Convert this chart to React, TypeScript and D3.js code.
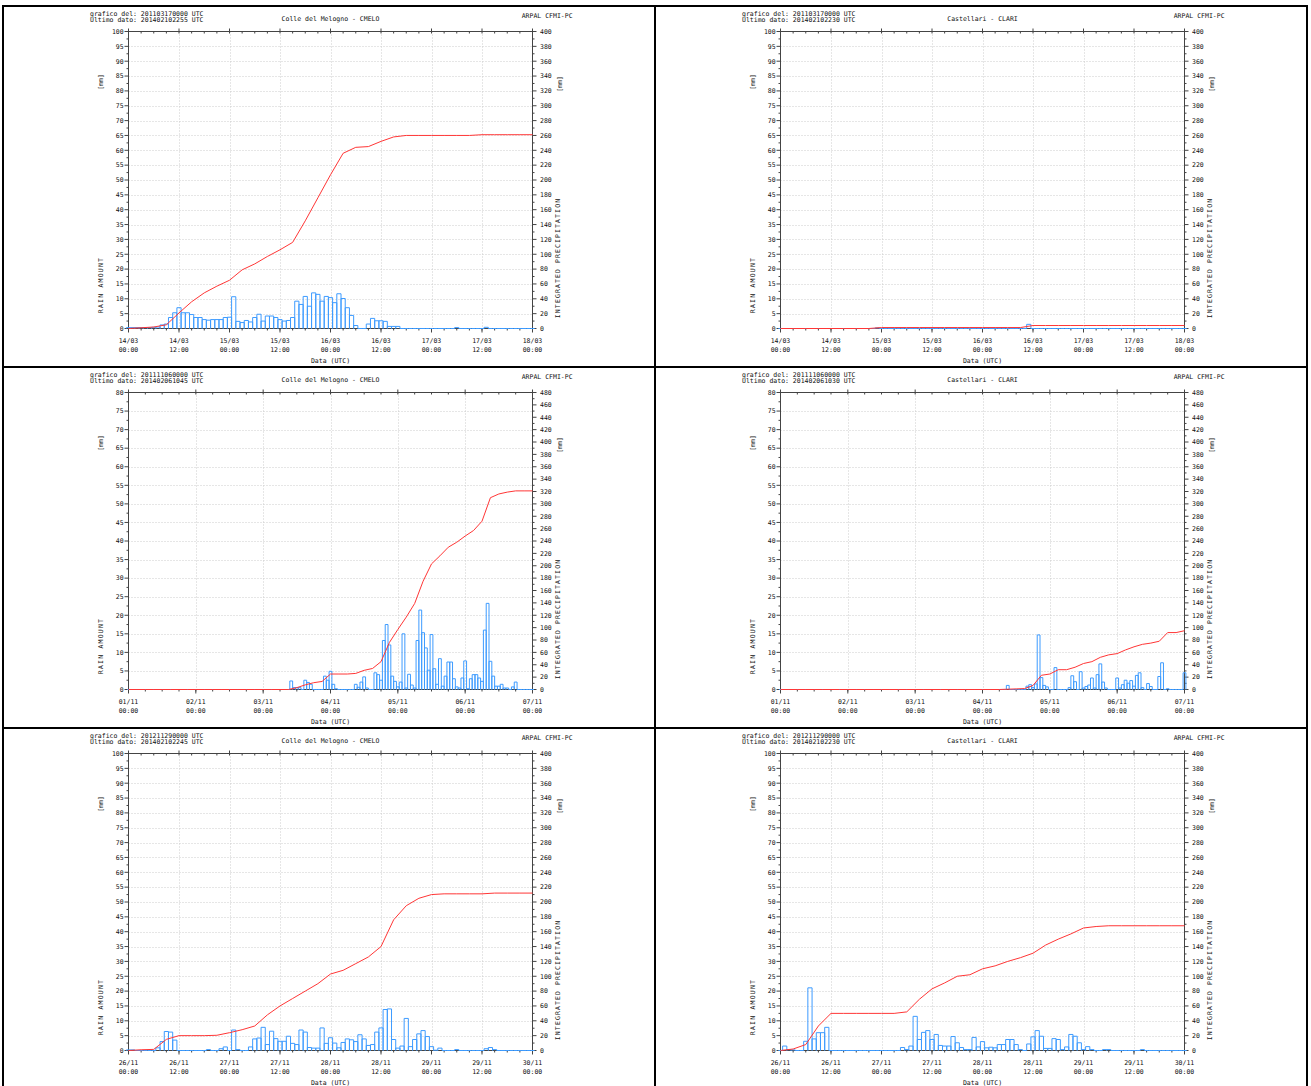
import React from 'react'
import * as d3 from 'd3'

const HOUR = 3600 * 1000

// hourly rain [mm], one value per hour from the first tick
const cmeloMarRain = [
  0.3, 0.3, 0.3, 0.3, 0.3, 0.3,
  0.4, 0.5, 1.2, 1.5, 3.7, 5.3, 7.0, 5.3, 5.3, 4.7, 3.7, 3.7, 3.0, 2.8, 3.0, 3.0, 3.0, 3.7, 3.8,
  10.7, 2.4, 2.0, 2.7, 2.2, 3.7, 4.8, 2.5, 4.2, 4.2, 3.7, 3.0, 2.5, 2.7, 3.7,
  9.2, 8.1, 10.8, 7.5, 12.0, 11.5, 9.2, 10.8, 10.4, 8.7, 11.7, 10.1, 7.0, 4.4, 1.0,
  0, 0, 1.5, 3.4, 2.6, 2.6, 2.4, 0.7, 0.7, 0.7,
  0, 0, 0, 0, 0, 0, 0, 0, 0, 0, 0, 0, 0,
  0.3, 0, 0, 0, 0, 0, 0, 0.4, 0, 0, 0, 0, 0, 0, 0, 0, 0, 0, 0
]
// integrated precipitation [mm], read every 3 hours
const cmeloMarTotal = [0, 1, 2, 5, 21, 36, 48, 57, 65, 79, 87, 97, 106, 116, 145, 176, 207, 236, 244, 245, 252, 258, 260, 260, 260, 260, 260, 260, 261, 261, 261, 261, 261]

const clariMarRain = [
  0, 0, 0, 0, 0, 0, 0, 0, 0, 0, 0, 0, 0, 0, 0, 0, 0, 0, 0, 0, 0, 0, 0, 0.2, 0,
  0, 0, 0, 0, 0, 0, 0, 0, 0, 0, 0, 0, 0, 0, 0, 0, 0, 0, 0, 0, 0, 0, 0, 0, 0,
  0, 0, 0, 0, 0, 0, 0, 0, 0, 1.4, 0, 0, 0, 0, 0, 0, 0, 0, 0, 0, 0, 0, 0, 0, 0,
  0, 0, 0, 0, 0, 0, 0, 0, 0, 0, 0, 0, 0, 0, 0, 0, 0, 0, 0, 0, 0, 0
]
const clariMarTotal = [0, 0, 0, 0, 0, 0, 0, 0, 1.3, 1.3, 1.3, 1.3, 1.3, 1.3, 1.3, 1.3, 1.3, 1.3, 1.3, 1.3, 4, 4, 4, 4, 4, 4, 4, 4, 4, 4, 4, 4, 4]

const cmeloNovRain = [
  0, 0, 0, 0, 0, 0, 0, 0, 0, 0, 0, 0, 0, 0, 0, 0, 0, 0, 0, 0, 0, 0, 0, 0, 0, 0, 0, 0, 0, 0,
  0, 0, 0, 0, 0, 0, 0, 0, 0, 0, 0, 0, 0, 0, 0, 0, 0, 0, 0, 0, 0, 0, 0, 0, 0, 0, 0, 0,
  2.3, 0.5, 0.5, 0.5, 0, 2.5, 1.9, 1.4, 0, 0, 0, 0, 3.6, 2.5, 4.9, 1.4, 0.2,
  0, 0, 0, 0, 0, 0,
  1.4, 0.6, 2.0, 3.4, 0.4, 0, 0, 4.5, 4.0, 2.5, 13.2, 17.5, 12.0, 3.6, 2.2, 0.7, 2.0, 15.0,
  0.4, 4.1, 1.2, 0.4, 13.2, 21.4, 15.3, 11.2, 5.2, 14.8, 5.6, 1.4, 8.3, 0.9, 3.6, 7.4, 7.4, 2.9, 0.7, 0.4,
  3.1, 7.7, 0.2, 2.9, 4.0, 4.0, 3.1, 2.2, 16.0, 23.2, 7.6, 3.6, 0.9, 0.9, 1.4, 0.4, 0.4, 0, 0.7, 2.0,
  0, 0, 0, 0, 0, 0
]
const cmeloNovTotal = [
  0, 0, 0, 0, 0, 0, 0, 0, 0, 0, 0, 0, 0, 0, 0, 0, 0, 0, 0,
  0, 3, 7.5, 11, 13, 25, 25, 25, 26, 31, 34, 45, 76, 97, 117, 139, 175, 203, 216, 230,
  238, 248, 257, 272, 310, 316, 319, 321, 321, 321
]

const clariNovRain = [
  0, 0, 0, 0, 0, 0, 0, 0, 0, 0, 0, 0, 0, 0, 0, 0, 0, 0, 0, 0, 0, 0, 0, 0, 0, 0, 0, 0, 0, 0,
  0, 0, 0, 0, 0, 0, 0, 0, 0, 0, 0, 0, 0, 0, 0, 0, 0, 0, 0, 0, 0, 0, 0, 0, 0, 0, 0, 0, 0, 0,
  0, 0, 0, 0, 0, 0, 0, 0, 0, 0, 0, 0, 0, 0, 0, 0, 0, 0, 0, 0, 0,
  1.1, 0, 0, 0, 0, 0, 0,
  0.9, 1.3, 0.5, 1.5, 14.7, 3.2, 1.1, 0.7, 0, 0, 5.9, 0, 0, 0, 0,
  0.5, 3.7, 2.1, 0, 4.8, 0.4, 0.8, 1.2, 3.1, 0.4, 4.0, 6.9, 2.0, 0.4, 0, 0, 0,
  3.1, 0.4, 1.3, 2.5, 1.7, 2.4, 0.9, 3.8, 4.5, 0.5, 0, 1.6, 0.8, 0, 0,
  3.5, 7.2, 0, 0.2, 0, 0, 0, 0, 0, 4.5
]
const clariNovTotal = [
  0, 0, 0, 0, 0, 0, 0, 0, 0, 0, 0, 0, 0, 0, 0, 0, 0, 0, 0, 0, 0, 0, 0, 0, 0, 0, 0,
  0.5, 1, 1.5, 6.5, 23, 25, 32, 32, 36, 42, 45, 52, 56, 58, 64, 69, 73, 75, 78, 92, 92, 95
]

const cmeloNov12Rain = [
  0.2, 0.2, 0, 0, 0, 0, 0, 0.9, 3.0, 6.4, 6.2, 3.5, 0, 0, 0, 0, 0, 0, 0, 0.3, 0, 0, 0.6, 1.2, 0,
  6.9, 0.3, 0, 0, 1.2, 3.9, 4.2, 7.8, 2.0, 6.5, 4.0, 3.1, 3.1, 4.8, 2.4, 2.0, 6.9, 6.2, 1.0, 0.8, 0.8, 7.6, 2.4,
  4.3, 2.5, 0.9, 2.7, 3.9, 3.6, 3.0, 5.3, 3.9, 1.7, 2.0, 6.2, 7.6, 13.8, 14.0, 3.7, 0.8, 1.5, 10.8, 1.3,
  3.7, 5.6, 6.7, 4.7, 1.3, 0.1, 0.8, 0, 0, 0, 0.3, 0, 0, 0, 0, 0, 0, 0.6, 1.0, 0.3,
  0, 0, 0, 0, 0, 0, 0, 0, 0
]
const cmeloNov12Total = [0, 1, 1.5, 15, 20, 20, 20, 20.5, 24, 28, 33, 48, 60, 70, 80, 90, 103, 108, 117, 126, 140, 176, 195, 205, 210, 211, 211, 211, 211, 212, 212, 212, 212]

const clariNov12Rain = [
  0, 1.5, 0.3, 0.2, 0, 0, 3.1, 21.1, 3.9, 6.0, 6.0, 7.8,
  0, 0, 0, 0, 0, 0, 0, 0, 0, 0, 0, 0, 0, 0, 0, 0, 0,
  1.0, 0.3, 1.5, 11.5, 3.7, 6.1, 6.7, 3.7, 5.4, 1.7, 1.5, 1.5, 4.7, 2.6, 1.0, 0.3, 0.3, 4.4, 1.2,
  3.0, 0.9, 1.1, 0.9, 2.0, 2.0, 3.7, 3.7, 2.0, 0.3, 0, 2.2, 4.6, 6.7, 4.8, 0.7, 0.7, 4.0, 3.7, 0.3,
  1.2, 5.4, 4.8, 2.6, 0.3, 1.3, 0.3,
  0, 0, 0.3, 0.3, 0, 0, 0, 0, 0, 0, 0, 0.3, 0, 0, 0, 0, 0, 0, 0, 0, 0, 0
]
const clariNov12Total = [0, 2, 8, 33, 50, 50, 50, 50, 50, 50, 52, 69, 83, 91, 100, 102, 110, 114, 120, 125, 131, 142, 150, 157, 165, 167, 168, 168, 168, 168, 168, 168, 168]

const stationNames = ['Colle del Melogno - CMELO', 'Castellari - CLARI']
const graficoDel = ['201103170000', '201103170000', '201111060000', '201111060000', '201211290000', '201211290000']
const ultimoDato = ['201402102255', '201402102230', '201402061045', '201402061030', '201402102245', '201402102230']
const startDates = ['2011-03-14', '2011-03-14', '2011-11-01', '2011-11-01', '2012-11-26', '2012-11-26']
const spanDays = [4, 4, 6, 6, 4, 4]
const rainMax = [100, 100, 80, 80, 100, 100]
const totalMax = [400, 400, 480, 480, 400, 400]
const rainSeries = [cmeloMarRain, clariMarRain, cmeloNovRain, clariNovRain, cmeloNov12Rain, clariNov12Rain]
const totalSeries = [cmeloMarTotal, clariMarTotal, cmeloNovTotal, clariNovTotal, cmeloNov12Total, clariNov12Total]

const PANEL_W = 652
const PANEL_H = 361
const L = 125.5
const R = 529.5
const T = 25.5
const B = 322.5

const FONT = 'DejaVu Sans Mono'
const TEXT = '#111'
const AXIS = '#444'
const GRID = '#cdcdcd'
const BAR = '#3d9bff'
const LINE = '#ff3636'

const fmtDay = d3.utcFormat('%d/%m')
const fmtTime = d3.utcFormat('%H:%M')

function Panel({ index }) {
  const start = Date.parse(startDates[index] + 'T00:00:00Z')
  const days = spanDays[index]
  const end = start + days * 24 * HOUR
  const rain = rainSeries[index]
  const total = totalSeries[index]

  const x = d3.scaleUtc().domain([start, end]).range([L, R])
  const yRain = d3.scaleLinear().domain([0, rainMax[index]]).range([B, T])
  const yTotal = d3.scaleLinear().domain([0, totalMax[index]]).range([B, T])

  const labelStep = days > 4 ? 24 : 12
  const minorStep = days > 4 ? 6 : 3
  const majorX = d3.range(0, days * 24 + 1, labelStep).map(h => new Date(start + h * HOUR))
  const minorX = d3.range(0, days * 24 + 1, minorStep).map(h => new Date(start + h * HOUR))
  const leftTicks = d3.range(0, rainMax[index] + 1, 5)
  const leftMinor = d3.range(2.5, rainMax[index], 5)
  const rightTicks = d3.range(0, totalMax[index] + 1, 20)
  const rightMinor = d3.range(10, totalMax[index], 20)

  // bars are centred on their hour
  const bars = rain.map((v, i) => {
    const t = start + i * HOUR
    const x0 = x(t - HOUR / 2)
    const x1 = x(t + HOUR / 2)
    return `M${x0},${B}V${yRain(v)}H${x1}V${B}`
  })

  const line = d3.line()
    .x(d => x(start + d[0] * HOUR))
    .y(d => yTotal(d[1]))
  const totalPath = line(total.map((v, i) => [i * 3, v]))

  const ox = 3 + (index % 2) * PANEL_W
  const oy = 6 + Math.floor(index / 2) * PANEL_H
  const mid = (L + R) / 2

  return (
    <g transform={`translate(${ox},${oy})`} fontFamily={FONT} fontSize={6.5} fill={TEXT}>
      <rect x={0} y={0} width={PANEL_W} height={PANEL_H} fill='#fff' stroke='#000' strokeWidth={2} />

      <text x={87} y={9.5}>{`grafico del: ${graficoDel[index]} UTC`}</text>
      <text x={87} y={16}>{`Ultimo dato: ${ultimoDato[index]} UTC`}</text>
      <text x={mid} y={14.7} textAnchor='middle'>{stationNames[index % 2]}</text>
      <text x={518.7} y={12.4}>ARPAL CFMI-PC</text>

      {/* grid */}
      <g stroke={GRID} strokeWidth={1} strokeDasharray='1,2'>
        {leftTicks.slice(1, -1).map(v => (
          <line key={'h' + v} x1={L} x2={R} y1={Math.round(yRain(v)) + 0.5} y2={Math.round(yRain(v)) + 0.5} />
        ))}
        {majorX.slice(1, -1).map(d => (
          <line key={'v' + d.getTime()} x1={Math.round(x(d)) + 0.5} x2={Math.round(x(d)) + 0.5} y1={T} y2={B} />
        ))}
      </g>

      {/* frame and ticks */}
      <g stroke={AXIS} strokeWidth={1}>
        <rect x={L} y={T} width={R - L} height={B - T} fill='none' />
        {leftTicks.map(v => <line key={'lt' + v} x1={L - 4} x2={L} y1={yRain(v)} y2={yRain(v)} />)}
        {leftMinor.map(v => <line key={'lm' + v} x1={L - 2} x2={L} y1={yRain(v)} y2={yRain(v)} />)}
        {rightTicks.map(v => <line key={'rt' + v} x1={R} x2={R + 4} y1={yTotal(v)} y2={yTotal(v)} />)}
        {rightMinor.map(v => <line key={'rm' + v} x1={R} x2={R + 2} y1={yTotal(v)} y2={yTotal(v)} />)}
        {minorX.map(d => (
          <g key={'xt' + d.getTime()}>
            <line x1={x(d)} x2={x(d)} y1={B} y2={B + 2} />
            <line x1={x(d)} x2={x(d)} y1={T} y2={T + 2} />
          </g>
        ))}
        {majorX.map(d => (
          <g key={'xm' + d.getTime()}>
            <line x1={x(d)} x2={x(d)} y1={B} y2={B + 4} />
            <line x1={x(d)} x2={x(d)} y1={T - 3} y2={T} />
          </g>
        ))}
      </g>

      {/* hourly rain */}
      <g fill='none' stroke={BAR} strokeWidth={1}>
        {bars.map((d, i) => <path key={i} d={d} />)}
      </g>

      {/* integrated precipitation */}
      <path d={totalPath} fill='none' stroke={LINE} strokeWidth={1} />

      {/* axis labels */}
      {leftTicks.map(v => (
        <text key={'ll' + v} x={L - 4.8} y={yRain(v) + 2.3} textAnchor='end'>{v}</text>
      ))}
      {rightTicks.map(v => (
        <text key={'rl' + v} x={R + 7.5} y={yTotal(v) + 2.3}>{v}</text>
      ))}
      {majorX.map(d => (
        <g key={'xl' + d.getTime()}>
          <text x={x(d)} y={337.4} textAnchor='middle'>{fmtDay(d)}</text>
          <text x={x(d)} y={345.7} textAnchor='middle'>{fmtTime(d)}</text>
        </g>
      ))}
      <text x={mid} y={357.4} textAnchor='middle'>Data (UTC)</text>

      <text transform={`translate(99.5,76) rotate(-90)`} textAnchor='middle'>[mm]</text>
      <text transform={`translate(99.5,279) rotate(-90)`} textAnchor='middle' letterSpacing={1.2}>RAIN AMOUNT</text>
      <text transform={`translate(558.5,78) rotate(-90)`} textAnchor='middle'>[mm]</text>
      <text transform={`translate(556.5,252) rotate(-90)`} textAnchor='middle' letterSpacing={1.1}>INTEGRATED PRECIPITATION</text>
    </g>
  )
}

export default function App() {
  return (
    <div>
      <style>{'body { margin: 0; }'}</style>
      <svg width={1311} height={1086} style={{ display: 'block', background: '#fff' }}>
        {d3.range(6).map(i => <Panel key={i} index={i} />)}
      </svg>
    </div>
  )
}
